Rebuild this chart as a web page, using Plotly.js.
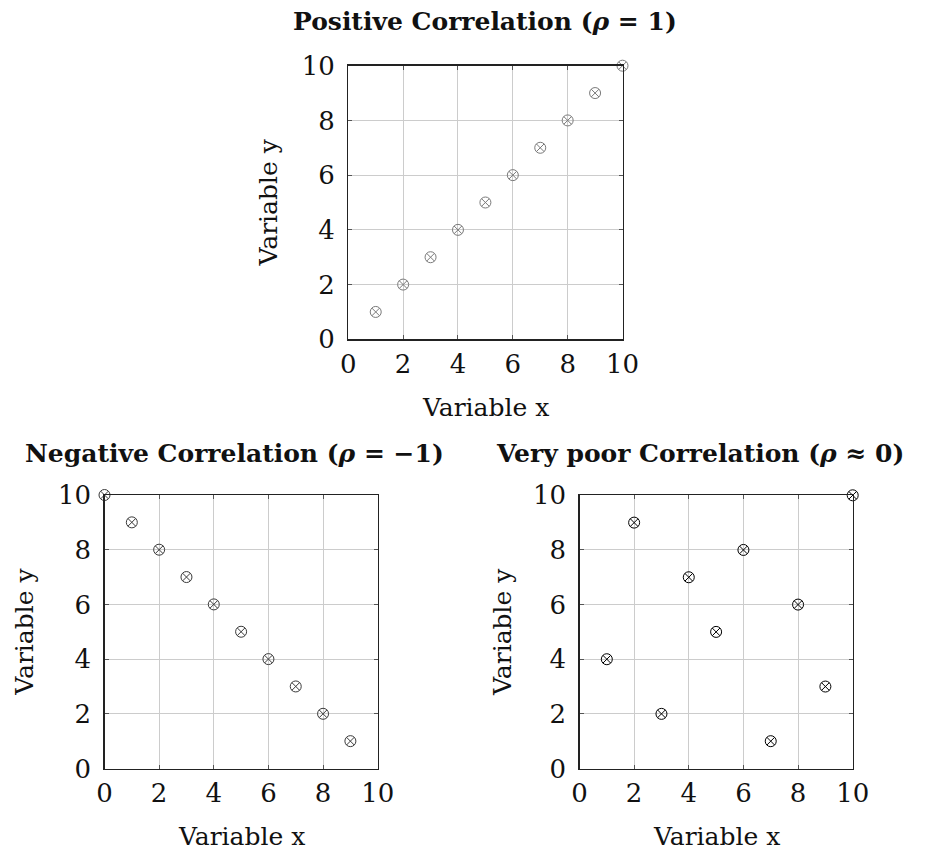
<!DOCTYPE html>
<html>
<head>
<meta charset="utf-8">
<script src="https://cdn.plot.ly/plotly-3.0.1.min.js"></script>
<style>html,body{margin:0;padding:0;background:#fff}#chart{width:927px;height:850px}</style>
</head>
<body>
<div id="chart"></div>
<script>
// Data
const posX = [1,2,3,4,5,6,7,8,9,10];
const posY = [1,2,3,4,5,6,7,8,9,10];
const negX = [0,1,2,3,4,5,6,7,8,9];
const negY = [10,9,8,7,6,5,4,3,2,1];
const poorX = [1,2,3,4,5,6,7,8,9,10];
const poorY = [4,9,2,7,5,8,1,6,3,10];
const tickVals = [0,2,4,6,8,10];
const tickText = ['0','2','4','6','8','10'];
const titles = ['Positive Correlation (<i>ρ</i> = 1)', 'Negative Correlation (<i>ρ</i> = −1)', 'Very poor Correlation (<i>ρ</i> ≈ 0)'];

const W = 927, H = 850;
const FONT = 'DejaVu Serif, serif';

function mk(x, y, xa, ya, color) {
  return {x: x, y: y, xaxis: xa, yaxis: ya, type: 'scatter', mode: 'markers', cliponaxis: false,
    marker: {symbol: 'circle-x-open', size: 11, color: color, line: {width: 1, color: color}}, showlegend: false, hoverinfo: 'skip'};
}

function ax(domain, anchor, isX) {
  return {domain: domain, anchor: anchor, range: [0, 10], tickvals: tickVals, ticktext: tickText,
    showgrid: true, gridcolor: '#cccccc', gridwidth: 1, zeroline: false,
    showline: true, linecolor: '#222', linewidth: 1.3, mirror: 'ticks',
    ticks: 'inside', ticklen: 4, tickcolor: '#555', tickwidth: 1,
    tickfont: {family: FONT, size: 26, color: '#111'}, ticklabelstandoff: isX ? 1 : 7, fixedrange: true};
}

// plot boxes in pixels
const boxes = [
  {l: 348.3, r: 622.5, t: 65.7, b: 339.3},
  {l: 104.5, r: 377.7, t: 495, b: 768.5},
  {l: 579.5, r: 852.7, t: 495.3, b: 768.5}
];
function dx(b){return [b.l/W, b.r/W];}
function dy(b){return [1 - b.b/H, 1 - b.t/H];}

const data = [
  mk(posX, posY, 'x', 'y', '#7a7a7a'),
  mk(negX, negY, 'x2', 'y2', '#3a3a3a'),
  mk(poorX, poorY, 'x3', 'y3', '#000000')
];

const layout = {
  width: W, height: H, margin: {l: 0, r: 0, t: 0, b: 0},
  paper_bgcolor: '#fff', plot_bgcolor: '#fff', showlegend: false,
  xaxis: ax(dx(boxes[0]), 'y', true), yaxis: ax(dy(boxes[0]), 'x', false),
  xaxis2: ax(dx(boxes[1]), 'y2', true), yaxis2: ax(dy(boxes[1]), 'x2', false),
  xaxis3: ax(dx(boxes[2]), 'y3', true), yaxis3: ax(dy(boxes[2]), 'x3', false),
  annotations: []
};

const titleY = [22, 454, 454];
const titleX = [485, 234, 700];
const ytitleX = [268, 25, 503];
boxes.forEach((b, i) => {
  layout.annotations.push({xref: 'paper', yref: 'paper', x: titleX[i]/W, y: 1 - titleY[i]/H,
    text: '<b>' + titles[i] + '</b>', showarrow: false, xanchor: 'center', yanchor: 'middle',
    font: {family: FONT, size: 25, color: '#111'}});
  layout.annotations.push({xref: 'paper', yref: 'paper', x: (b.l + b.r)/2/W, y: 1 - (b.b + 68)/H,
    text: 'Variable x', showarrow: false, xanchor: 'center', yanchor: 'middle',
    font: {family: FONT, size: 25, color: '#111'}});
  layout.annotations.push({xref: 'paper', yref: 'paper', x: ytitleX[i]/W, y: 1 - (b.t + b.b)/2/H,
    text: 'Variable y', showarrow: false, textangle: -90, xanchor: 'center', yanchor: 'middle',
    font: {family: FONT, size: 25, color: '#111'}});
});

Plotly.newPlot('chart', data, layout, {staticPlot: true, displayModeBar: false});
</script>
</body>
</html>
